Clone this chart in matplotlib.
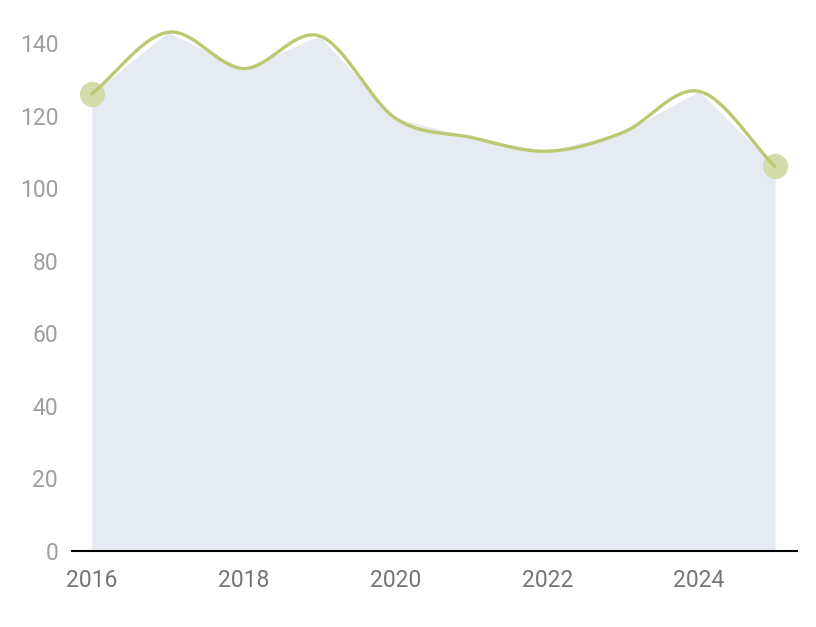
import numpy as np
import matplotlib
matplotlib.use("Agg")
import matplotlib.pyplot as plt

years = [2016, 2017, 2018, 2019, 2020, 2021, 2022, 2023, 2024, 2025]
values = [126, 143, 133, 142, 119.3, 114, 110.2, 115.4, 126.7, 106]
xticks = [2016, 2018, 2020, 2022, 2024]
yticks = [0, 20, 40, 60, 80, 100, 120, 140]

plt.rcParams['font.family'] = ['Roboto', 'DejaVu Sans']

def catmull_rom(x, y, n=40):
    x = np.asarray(x, float); y = np.asarray(y, float)
    px = np.concatenate([[2*x[0]-x[1]], x, [2*x[-1]-x[-2]]])
    py = np.concatenate([[2*y[0]-y[1]], y, [2*y[-1]-y[-2]]])
    xs, ys = [], []
    t = np.linspace(0, 1, n)
    for i in range(1, len(px)-2):
        for p, out in ((px, xs), (py, ys)):
            p0, p1, p2, p3 = p[i-1], p[i], p[i+1], p[i+2]
            out.append(0.5*((2*p1) + (-p0+p2)*t + (2*p0-5*p1+4*p2-p3)*t**2 + (-p0+3*p1-3*p2+p3)*t**3))
    return np.concatenate(xs), np.concatenate(ys)

fig = plt.figure(figsize=(8.16, 6.27), dpi=100)
ax = fig.add_axes([72/816, 76/627, (797-72)/816, (551-25)/627])

ax.fill_between(years, values, 0, color='#e6ebf2', linewidth=0, zorder=1)
sx, sy = catmull_rom(years, values)
ax.scatter([years[0], years[-1]], [values[0], values[-1]], s=330, color='#d3dcaa', zorder=2, linewidths=0)
ax.plot(sx, sy, color='#bcc872', linewidth=2.4, zorder=3, solid_capstyle='round')

ax.set_xlim(2015.74, 2025.29)
ax.set_ylim(0, 145)
ax.set_xticks(xticks)
ax.set_xticklabels([str(v) for v in xticks], fontsize=16.5, color='#757575')
ax.set_yticks(yticks)
ax.set_yticklabels([str(v) for v in yticks], fontsize=16.5, color='#9e9e9e')
ax.tick_params(axis='both', length=0)
ax.tick_params(axis='y', pad=10)
ax.tick_params(axis='x', pad=13)
for s in ['top', 'right', 'left']:
    ax.spines[s].set_visible(False)
ax.spines['bottom'].set_color('#000000')
ax.spines['bottom'].set_linewidth(1.5)
ax.spines['bottom'].set_zorder(4)

fig.savefig('out.png', dpi=100)
